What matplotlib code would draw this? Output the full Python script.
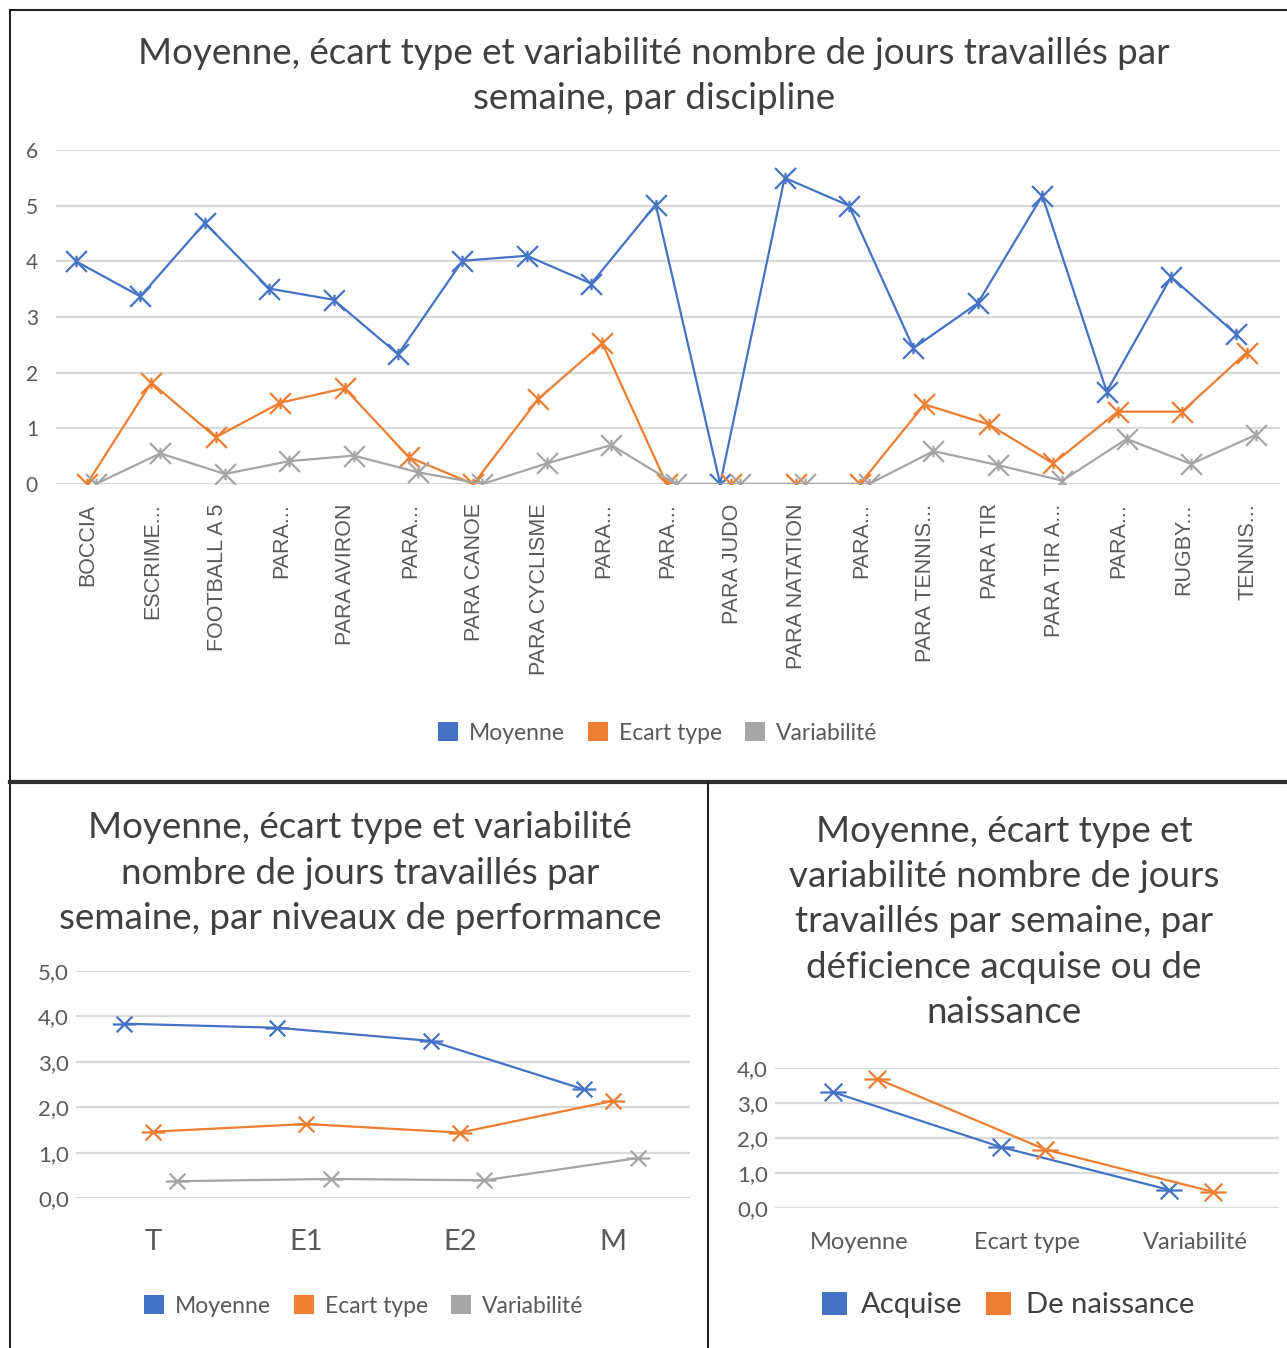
import matplotlib
matplotlib.use('Agg')
import matplotlib.pyplot as plt
from matplotlib.lines import Line2D
from matplotlib.patches import Patch
from matplotlib.path import Path
from matplotlib.ticker import FuncFormatter

W, H = 1287, 1348

# ---- data: top chart (par discipline)
disciplines = ['BOCCIA', 'ESCRIME...', 'FOOTBALL A 5', 'PARA...', 'PARA AVIRON', 'PARA...',
               'PARA CANOE', 'PARA CYCLISME', 'PARA...', 'PARA...', 'PARA JUDO', 'PARA NATATION',
               'PARA...', 'PARA TENNIS...', 'PARA TIR', 'PARA TIR A...', 'PARA...', 'RUGBY...',
               'TENNIS...']
disc_moyenne = [4.0, 3.37, 4.69, 3.51, 3.31, 2.33, 4.01, 4.1, 3.6, 5.02, 0.0, 5.5,
                5.0, 2.44, 3.25, 5.18, 1.66, 3.72, 2.7]
disc_ecart = [0.0, 1.82, 0.84, 1.46, 1.72, 0.48, 0.0, 1.52, 2.53, 0.0, 0.0, 0.0,
              0.0, 1.43, 1.07, 0.37, 1.3, 1.3, 2.36]
disc_variab = [0.0, 0.55, 0.18, 0.41, 0.51, 0.21, 0.0, 0.37, 0.7, 0.0, 0.0, 0.0,
               0.0, 0.59, 0.34, 0.06, 0.81, 0.36, 0.88]

# ---- data: bottom left (par niveaux de performance)
niveaux = ['T', 'E1', 'E2', 'M']
niv_moyenne = [3.84, 3.75, 3.46, 2.39]
niv_ecart = [1.46, 1.63, 1.44, 2.14]
niv_variab = [0.37, 0.42, 0.39, 0.88]

# ---- data: bottom right (deficience acquise / de naissance)
indicateurs = ['Moyenne', 'Ecart type', 'Variabilité']
acquise = [3.31, 1.74, 0.52]
naissance = [3.69, 1.67, 0.46]

BLUE = '#4472C4'
ORANGE = '#ED7D31'
GRAY = '#A5A5A5'
GRID = '#D9D9D9'
TXT = '#404040'
TICK = '#595959'
TITLE_FONT = ['Lato', 'DejaVu Sans']
TITLE_SIZE = 26.5
TITLE_LS = 1.46


def px(x, y):
    return x / W, 1 - y / H


def star_marker(vertical=True):
    # X with a short bar through the middle, like Excel's star marker
    verts = [(-1, -1), (1, 1), (-1, 1), (1, -1)]
    if vertical:
        verts += [(0, -0.55), (0, 0.55)]
    else:
        verts += [(-1.5, 0), (1.5, 0)]
    codes = [Path.MOVETO, Path.LINETO] * 3
    return Path(verts, codes)


def comma(v, pos):
    return f'{v:.1f}'.replace('.', ',')


def style_axes(ax, ytick_size, ypad):
    for s in ax.spines.values():
        s.set_visible(False)
    ax.grid(axis='y', color=GRID, linewidth=1.6)
    ax.set_axisbelow(True)
    ax.tick_params(length=0, colors=TICK)
    ax.tick_params(axis='y', labelsize=ytick_size, pad=ypad)
    for lab in ax.get_yticklabels():
        lab.set_family(TITLE_FONT)


def legend(handles, labels, xy, size, color, spacing=1.0):
    fig.legend(handles, labels, loc='center', bbox_to_anchor=px(*xy), ncol=len(labels),
               frameon=False, handlelength=0.85, handleheight=0.85, handletextpad=0.5,
               columnspacing=spacing, prop={'family': TITLE_FONT, 'size': size}, labelcolor=color)


fig = plt.figure(figsize=(W / 100, H / 100), dpi=100)

# ============ top chart ============
ax1 = fig.add_axes([56 / W, 1 - 484 / H, 1224 / W, 334 / H])
xs = list(range(len(disciplines)))
mk_top = star_marker(vertical=True)
for vals, col, off in [(disc_moyenne, BLUE, -0.19), (disc_ecart, ORANGE, -0.02), (disc_variab, GRAY, 0.12)]:
    ax1.plot([x + off for x in xs], vals, color=col, linewidth=1.6, marker=mk_top,
             markersize=15, markerfacecolor='none', markeredgecolor=col, markeredgewidth=1.6)
ax1.set_xlim(-0.5, len(disciplines) - 0.5)
ax1.set_ylim(0, 6)
ax1.set_yticks(range(0, 7))
ax1.set_xticks(xs)
ax1.set_xticklabels(disciplines, rotation=90, fontsize=15.5, family='Liberation Sans', color=TICK)
style_axes(ax1, 15, 13)
ax1.tick_params(axis='x', pad=14)

fig.text(*px(654, 76), 'Moyenne, écart type et variabilité nombre de jours travaillés par\nsemaine, par discipline',
         ha='center', va='center', fontsize=TITLE_SIZE, color=TXT, family=TITLE_FONT, linespacing=TITLE_LS)

handles3 = [Patch(facecolor=BLUE), Patch(facecolor=ORANGE), Patch(facecolor=GRAY)]
legend(handles3, ['Moyenne', 'Ecart type', 'Variabilité'], (658, 733), 16.5, TICK)

# ============ bottom left ============
ax2 = fig.add_axes([76 / W, 1 - 1198 / H, 614 / W, 227 / H])
xs2 = list(range(len(niveaux)))
mk_bot = star_marker(vertical=False)
for vals, col, off in [(niv_moyenne, BLUE, -0.19), (niv_ecart, ORANGE, 0.0), (niv_variab, GRAY, 0.16)]:
    ax2.plot([x + off for x in xs2], vals, color=col, linewidth=1.6, marker=mk_bot,
             markersize=17, markerfacecolor='none', markeredgecolor=col, markeredgewidth=1.6)
ax2.set_xlim(-0.5, len(niveaux) - 0.5)
ax2.set_ylim(0, 5)
ax2.set_yticks([0, 1, 2, 3, 4, 5])
ax2.yaxis.set_major_formatter(FuncFormatter(comma))
ax2.set_xticks(xs2)
ax2.set_xticklabels(niveaux, fontsize=21, family=TITLE_FONT, color=TXT)
style_axes(ax2, 16, 5)
ax2.tick_params(axis='x', pad=22)

fig.text(*px(360, 873), 'Moyenne, écart type et variabilité\nnombre de jours travaillés par\nsemaine, par niveaux de performance',
         ha='center', va='center', fontsize=TITLE_SIZE, color=TXT, family=TITLE_FONT, linespacing=TITLE_LS)
legend(handles3, ['Moyenne', 'Ecart type', 'Variabilité'], (364, 1306), 16.5, TICK)

# ============ bottom right ============
ax3 = fig.add_axes([775 / W, 1 - 1208 / H, 504 / W, 140 / H])
xs3 = list(range(len(indicateurs)))
for vals, col, off in [(acquise, BLUE, -0.155), (naissance, ORANGE, 0.11)]:
    ax3.plot([x + off for x in xs3], vals, color=col, linewidth=1.6, marker=mk_bot,
             markersize=19, markerfacecolor='none', markeredgecolor=col, markeredgewidth=1.6)
ax3.set_xlim(-0.5, len(indicateurs) - 0.5)
ax3.set_ylim(0, 4)
ax3.set_yticks([0, 1, 2, 3, 4])
ax3.yaxis.set_major_formatter(FuncFormatter(comma))
ax3.set_xticks(xs3)
ax3.set_xticklabels(indicateurs, fontsize=17, family=TITLE_FONT, color=TICK)
style_axes(ax3, 16, 5)
ax3.tick_params(axis='x', pad=17)

fig.text(*px(1004, 922), 'Moyenne, écart type et\nvariabilité nombre de jours\ntravaillés par semaine, par\ndéficience acquise ou de\nnaissance',
         ha='center', va='center', fontsize=TITLE_SIZE, color=TXT, family=TITLE_FONT, linespacing=TITLE_LS)
legend([Patch(facecolor=BLUE), Patch(facecolor=ORANGE)], ['Acquise', 'De naissance'], (1008, 1305), 21, TXT, 0.8)

# ============ panel borders ============
fig.add_artist(Line2D([10 / W, 10 / W], [0, 1 - 10 / H], color='#202020', linewidth=1.5))
fig.add_artist(Line2D([10 / W, 1], [1 - 10 / H, 1 - 10 / H], color='#202020', linewidth=1.5))
fig.add_artist(Line2D([10 / W, 1], [1 - 782 / H, 1 - 782 / H], color='#303030', linewidth=3))
fig.add_artist(Line2D([708 / W, 708 / W], [0, 1 - 782 / H], color='#202020', linewidth=1.5))

fig.savefig('out.png', dpi=100, facecolor='white')
